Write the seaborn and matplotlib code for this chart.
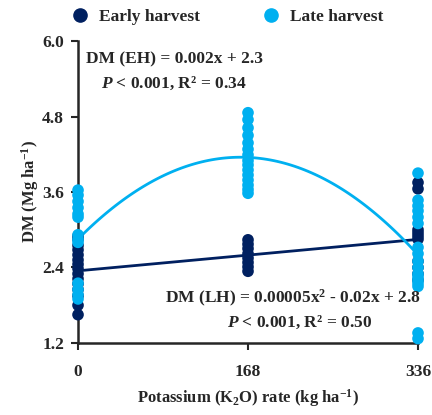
import numpy as np
import pandas as pd
import matplotlib
matplotlib.use("Agg")
import matplotlib.pyplot as plt
import seaborn as sns
from matplotlib.lines import Line2D

# data (DM, Mg/ha) at each K2O rate
rates = [0, 168, 336]
early_0 = [2.9, 2.85, 2.75, 2.68, 2.6, 2.52, 2.45, 2.38, 2.3, 2.22, 2.14, 2.05, 1.95, 1.8, 1.65]
early_168 = [2.84, 2.77, 2.7, 2.62, 2.55, 2.48, 2.41, 2.34]
early_336 = [3.75, 3.65, 3.0, 2.95, 2.9, 2.85, 2.5, 2.4, 2.3, 2.2]
late_0 = [3.63, 3.55, 3.45, 3.35, 3.25, 3.2, 2.92, 2.85, 2.8, 2.15, 2.05, 1.97, 1.9]
late_168 = [4.86, 4.75, 4.62, 4.5, 4.38, 4.28, 4.19, 4.1, 4.03, 3.95, 3.87, 3.79, 3.71, 3.64, 3.58]
late_336 = [3.9, 3.47, 3.38, 3.3, 3.2, 3.1, 2.72, 2.62, 2.5, 2.4, 2.3, 2.25, 2.2, 2.15, 2.1, 1.36, 1.27]

groups = ["Early harvest", "Late harvest"]
colors = ["#002060", "#00B0F0"]

rows = []
for g, series in zip(groups, [[early_0, early_168, early_336], [late_0, late_168, late_336]]):
    for r, vals in zip(rates, series):
        for v in vals:
            rows.append((r, v, g))
df = pd.DataFrame(rows, columns=["rate", "dm", "harvest"])

sns.set_style("ticks")
plt.rcParams["font.family"] = ["Liberation Serif", "DejaVu Serif"]
plt.rcParams["font.weight"] = "bold"
plt.rcParams["mathtext.fontset"] = "custom"
plt.rcParams["mathtext.rm"] = "Liberation Serif:bold"
plt.rcParams["mathtext.bf"] = "Liberation Serif:bold"
plt.rcParams["mathtext.it"] = "Liberation Serif:italic:bold"

fig = plt.figure(figsize=(4.32, 4.15), dpi=100)
ax = fig.add_axes([0.1806, 0.1735, 0.787, 0.7277])

sns.scatterplot(data=df, x="rate", y="dm", hue="harvest", hue_order=groups,
                palette=colors, s=70, linewidth=0, alpha=1, ax=ax,
                legend=False, clip_on=False, zorder=3)

# fitted lines
sns.regplot(data=df[df.harvest == groups[0]], x="rate", y="dm", order=1,
            scatter=False, ci=None, color=colors[0], line_kws={"lw": 2}, ax=ax)
sns.regplot(data=df[df.harvest == groups[1]], x="rate", y="dm", order=2,
            scatter=False, ci=None, color=colors[1], line_kws={"lw": 2}, ax=ax)

ax.set_xlim(0, 336)
ax.set_ylim(1.2, 6.0)
ax.set_xticks(rates)
ax.set_yticks([1.2, 2.4, 3.6, 4.8, 6.0])
ax.set_yticklabels(["1.2", "2.4", "3.6", "4.8", "6.0"])
ax.tick_params(axis="both", labelsize=12.5, width=1.5, length=5, direction="out", pad=5)
ax.tick_params(axis="x", pad=10)
for lab in ax.get_xticklabels() + ax.get_yticklabels():
    lab.set_fontweight("bold")
sns.despine(ax=ax)
for sp in ["left", "bottom"]:
    ax.spines[sp].set_linewidth(1.8)

ax.set_xlabel("Potassium (K$_{2}$O) rate (kg ha$^{-1}$)", fontsize=12, fontweight="bold", labelpad=5)
ax.set_ylabel("DM (Mg ha$^{-1}$)", fontsize=12, fontweight="bold", labelpad=1)

ax.text(95, 5.70, "DM (EH) = 0.002x + 2.3", ha="center", va="center", fontsize=12.5, fontweight="bold")
ax.text(95, 5.33, "$P$ < 0.001, R² = 0.34", ha="center", va="center", fontsize=12.5, fontweight="bold")
ax.text(212, 1.91, "DM (LH) = 0.00005x$^{2}$ - 0.02x + 2.8", ha="center", va="center", fontsize=12.5, fontweight="bold")
ax.text(219, 1.53, "$P$ < 0.001, R² = 0.50", ha="center", va="center", fontsize=12.5, fontweight="bold")

handles = [Line2D([], [], marker="o", ls="", color=c, markersize=9.5) for c in colors]
fig.legend(handles, groups, loc="center", bbox_to_anchor=(0.526, 0.959), ncol=2,
           frameon=False, handlelength=1.0, handletextpad=0.6, columnspacing=3.6,
           prop={"weight": "bold", "size": 12.5})

fig.savefig("out.png", dpi=100)
